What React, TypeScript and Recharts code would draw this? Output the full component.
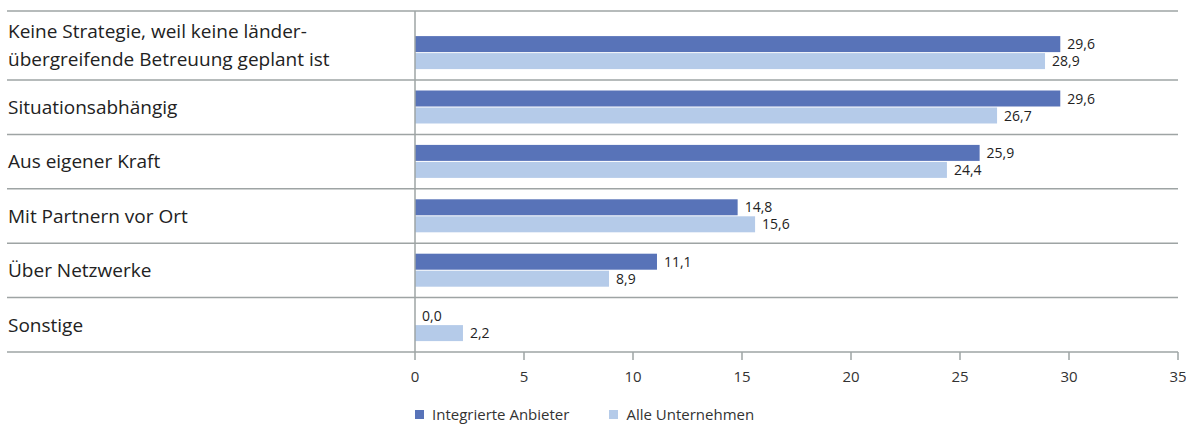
import React from 'react';
import { BarChart, Bar, XAxis, YAxis } from 'recharts';

const categories = [
  'Keine Strategie, weil keine länder-\nübergreifende Betreuung geplant ist',
  'Situationsabhängig',
  'Aus eigener Kraft',
  'Mit Partnern vor Ort',
  'Über Netzwerke',
  'Sonstige',
];
const integrierteAnbieter = [29.6, 29.6, 25.9, 14.8, 11.1, 0.0];
const alleUnternehmen = [28.9, 26.7, 24.4, 15.6, 8.9, 2.2];
const xTicks = [0, 5, 10, 15, 20, 25, 30, 35];

const DARK = '#5873B8';
const LIGHT = '#B5CBE9';
const LINE = '#9EA4A4';
const FONT = '"Open Sans", "Noto Sans", sans-serif';

const W = 1186;
const H = 429;
const TOP = 11;
const AXIS_H = 30;
const BOTTOM = 77;
const PAD_TOP = 14.6;
const BAND = (H - TOP - BOTTOM - PAD_TOP) / categories.length;

const data = categories.map((name, i) => ({
  name,
  a: integrierteAnbieter[i],
  b: alleUnternehmen[i],
}));

const fmt = (v: number) => v.toFixed(1).replace('.', ',');

const CategoryTick = ({ y, payload, index }: any) => {
  const lines = String(payload.value).split('\n');
  // first row also owns the space above the padded band
  const cy = index === 0 ? y - PAD_TOP / 2 : y;
  const lh = 28;
  const y0 = cy - ((lines.length - 1) * lh) / 2;
  return (
    <g>
      {index === 0 && (
        <line x1={7} x2={W - 8} y1={y - BAND / 2 - PAD_TOP} y2={y - BAND / 2 - PAD_TOP} stroke={LINE} strokeWidth={1.5} />
      )}
      <line x1={7} x2={W - 8} y1={y + BAND / 2} y2={y + BAND / 2} stroke={LINE} strokeWidth={1.5} />
      {lines.map((l, k) => (
        <text key={k} x={8} y={y0 + k * lh} dy="0.36em" fontSize={19} fill="#222" fontFamily={FONT}>
          {l}
        </text>
      ))}
    </g>
  );
};

// bar plus its value, drawn even when the bar has zero length
const BarWithValue = (props: any) => {
  const { x, y, width, height, fill, value } = props;
  const v = Array.isArray(value) ? value[1] - value[0] : value;
  return (
    <g>
      {width > 0 && <rect x={x} y={y} width={width} height={height} fill={fill} />}
      <text x={x + Math.max(width, 0) + 7} y={y + height / 2} dy="0.36em" fontSize={14} fill="#222" fontFamily={FONT}>
        {fmt(Number(v))}
      </text>
    </g>
  );
};

export default function App() {
  return (
    <div style={{ position: 'absolute', left: 0, top: 0, width: W, height: H, background: '#fff' }}>
      <BarChart
        width={W}
        height={H}
        data={data}
        layout="vertical"
        margin={{ top: TOP, right: 8, bottom: BOTTOM - AXIS_H, left: 0 }}
        barCategoryGap={10.5}
        barGap={1}
      >
        <XAxis
          type="number"
          domain={[0, 35]}
          ticks={xTicks}
          interval={0}
          height={AXIS_H}
          axisLine={false}
          tickLine={{ stroke: LINE, strokeWidth: 1.5 }}
          tickSize={8}
          tickMargin={11}
          tick={{ fill: '#333', fontSize: 15, fontFamily: FONT }}
        />
        <YAxis
          type="category"
          dataKey="name"
          width={415}
          padding={{ top: PAD_TOP, bottom: 0 }}
          axisLine={{ stroke: LINE, strokeWidth: 1.5 }}
          tickLine={false}
          tick={<CategoryTick />}
          interval={0}
        />
        <Bar dataKey="a" name="Integrierte Anbieter" fill={DARK} isAnimationActive={false} shape={<BarWithValue />} />
        <Bar dataKey="b" name="Alle Unternehmen" fill={LIGHT} isAnimationActive={false} shape={<BarWithValue />} />
      </BarChart>
      <div
        style={{
          position: 'absolute',
          left: 415,
          top: 404,
          display: 'flex',
          alignItems: 'center',
          fontFamily: FONT,
          fontSize: 15,
          color: '#333',
          lineHeight: '20px',
        }}
      >
        <span style={{ width: 9, height: 9, background: DARK, marginRight: 8 }} />
        <span style={{ marginRight: 40 }}>Integrierte Anbieter</span>
        <span style={{ width: 9, height: 9, background: LIGHT, marginRight: 8 }} />
        <span>Alle Unternehmen</span>
      </div>
    </div>
  );
}
